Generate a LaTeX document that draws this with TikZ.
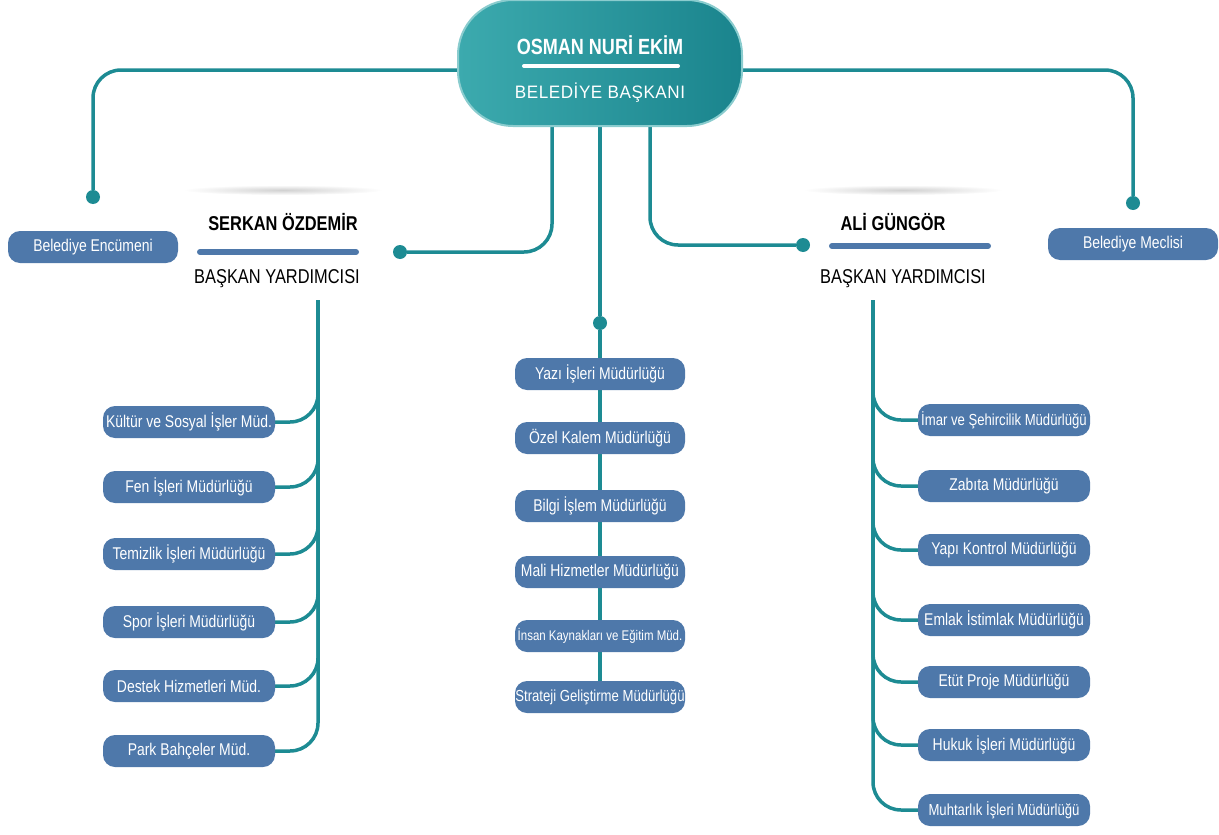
\documentclass[tikz,border=0pt]{standalone}
\usepackage{fontspec}
\setmainfont{Liberation Sans}
\newfontfamily\narrowfont[FakeStretch=0.82]{Liberation Sans}
\newfontfamily\spacedfont[LetterSpace=3,FakeStretch=0.95]{Liberation Sans}
\usetikzlibrary{backgrounds}
\definecolor{linkteal}{RGB}{29,139,147}
\definecolor{boxblue}{RGB}{78,120,170}
\definecolor{headlight}{RGB}{60,170,174}
\definecolor{headdark}{RGB}{26,132,141}
\tikzset{
  unit/.style={fill=boxblue, text=white, rounded corners=12, minimum width=172,
    minimum height=32, inner sep=0, font=\narrowfont\fontsize{17}{19}\selectfont},
  tightunit/.style={unit, font=\narrowfont\fontsize{16}{18}\selectfont},
  dot/.style={circle, fill=linkteal, minimum size=14, inner sep=0},
  link/.style={draw=linkteal, line width=3.5, rounded corners=28},
  vpname/.style={font=\narrowfont\bfseries\fontsize{20}{22}\selectfont},
  vptitle/.style={font=\narrowfont\fontsize{20}{22}\selectfont},
}
\begin{document}
\begin{tikzpicture}[x=1pt, y=-1pt]
  \useasboundingbox (0,0) rectangle (1219,835);
  % mayor
  \node[draw=headlight!60!white, line width=2, rounded corners=55, minimum width=284,
    minimum height=126, left color=headlight, right color=headdark] (baskan) at (600,63) {};
  \node[text=white, font=\narrowfont\bfseries\fontsize{22}{24}\selectfont] (baskanname) at (600,45) {OSMAN NURİ EKİM};
  \node[text=white, font=\spacedfont\fontsize{18}{20}\selectfont] (baskantitle) at (600,93) {BELEDİYE BAŞKANI};
  \draw[white, line width=4, line cap=round] (524,66) -- (678,66);
  % councils
  \node[unit, minimum width=170] (encumen) at (93,247) {Belediye Encümeni};
  \node[unit, minimum width=170] (meclis) at (1133,244) {Belediye Meclisi};
  \node[dot] (encdot) at (93,197) {};
  \node[dot] (mecdot) at (1133,203) {};
  % deputies
  \shade[inner color=black!18, outer color=white] (283,190) ellipse (100 and 5);
  \shade[inner color=black!18, outer color=white] (903,190) ellipse (100 and 5);
  \node[vpname] (serkan) at (283,222) {SERKAN ÖZDEMİR};
  \draw[boxblue, line width=6, line cap=round] (200,252) -- (356,252);
  \node[vptitle] (serkantitle) at (277,279) {BAŞKAN YARDIMCISI};
  \node[vpname] (ali) at (893,222) {ALİ GÜNGÖR};
  \draw[boxblue, line width=6, line cap=round] (832,246) -- (988,246);
  \node[vptitle] (alititle) at (903,279) {BAŞKAN YARDIMCISI};
  \node[dot] (serkandot) at (400,252) {};
  \node[dot] (alidot) at (803,245) {};
  \node[dot] (middot) at (600,323) {};
  \coordinate (ltop) at (318,300);
  \coordinate (rtop) at (873,300);
  % left units
  \node[unit] (l1) at (189,422) {Kültür ve Sosyal İşler Müd.};
  \node[unit] (l2) at (189,487) {Fen İşleri Müdürlüğü};
  \node[unit] (l3) at (189,554) {Temizlik İşleri Müdürlüğü};
  \node[unit] (l4) at (189,622) {Spor İşleri Müdürlüğü};
  \node[unit] (l5) at (189,686) {Destek Hizmetleri Müd.};
  \node[unit] (l6) at (189,751) {Park Bahçeler Müd.};
  % middle units
  \node[unit, minimum width=170] (m1) at (600,374) {Yazı İşleri Müdürlüğü};
  \node[unit, minimum width=170] (m2) at (600,438) {Özel Kalem Müdürlüğü};
  \node[unit, minimum width=170] (m3) at (600,506) {Bilgi İşlem Müdürlüğü};
  \node[unit, minimum width=170] (m4) at (600,572) {Mali Hizmetler Müdürlüğü};
  \node[unit, minimum width=170, font=\narrowfont\fontsize{14}{16}\selectfont] (m5) at (600,636) {İnsan Kaynakları ve Eğitim Müd.};
  \node[tightunit, minimum width=170] (m6) at (600,697) {Strateji Geliştirme Müdürlüğü};
  % right units
  \node[tightunit] (r1) at (1004,420) {İmar ve Şehircilik Müdürlüğü};
  \node[unit] (r2) at (1004,486) {Zabıta Müdürlüğü};
  \node[unit] (r3) at (1004,550) {Yapı Kontrol Müdürlüğü};
  \node[unit] (r4) at (1004,620) {Emlak İstimlak Müdürlüğü};
  \node[unit] (r5) at (1004,682) {Etüt Proje Müdürlüğü};
  \node[unit] (r6) at (1004,745) {Hukuk İşleri Müdürlüğü};
  \node[tightunit] (r7) at (1004,810) {Muhtarlık İşleri Müdürlüğü};
  \begin{scope}[on background layer]
    \draw[link] ([yshift=-7]baskan.west) -| (encdot);
    \draw[link] ([yshift=-7]baskan.east) -| (mecdot);
    \draw[link] ([xshift=-48]baskan.south) |- (serkandot);
    \draw[link] ([xshift=50]baskan.south) |- (alidot);
    \draw[link] (baskan.south) -- (middot) -- (m6);
    \draw[link] (l1.east) -| (ltop);
    \draw[link] (l2.east) -| (ltop);
    \draw[link] (l3.east) -| (ltop);
    \draw[link] (l4.east) -| (ltop);
    \draw[link] (l5.east) -| (ltop);
    \draw[link] (l6.east) -| (ltop);
    \draw[link] (r1.west) -| (rtop);
    \draw[link] (r2.west) -| (rtop);
    \draw[link] (r3.west) -| (rtop);
    \draw[link] (r4.west) -| (rtop);
    \draw[link] (r5.west) -| (rtop);
    \draw[link] (r6.west) -| (rtop);
    \draw[link] (r7.west) -| (rtop);
  \end{scope}
\end{tikzpicture}
\end{document}
